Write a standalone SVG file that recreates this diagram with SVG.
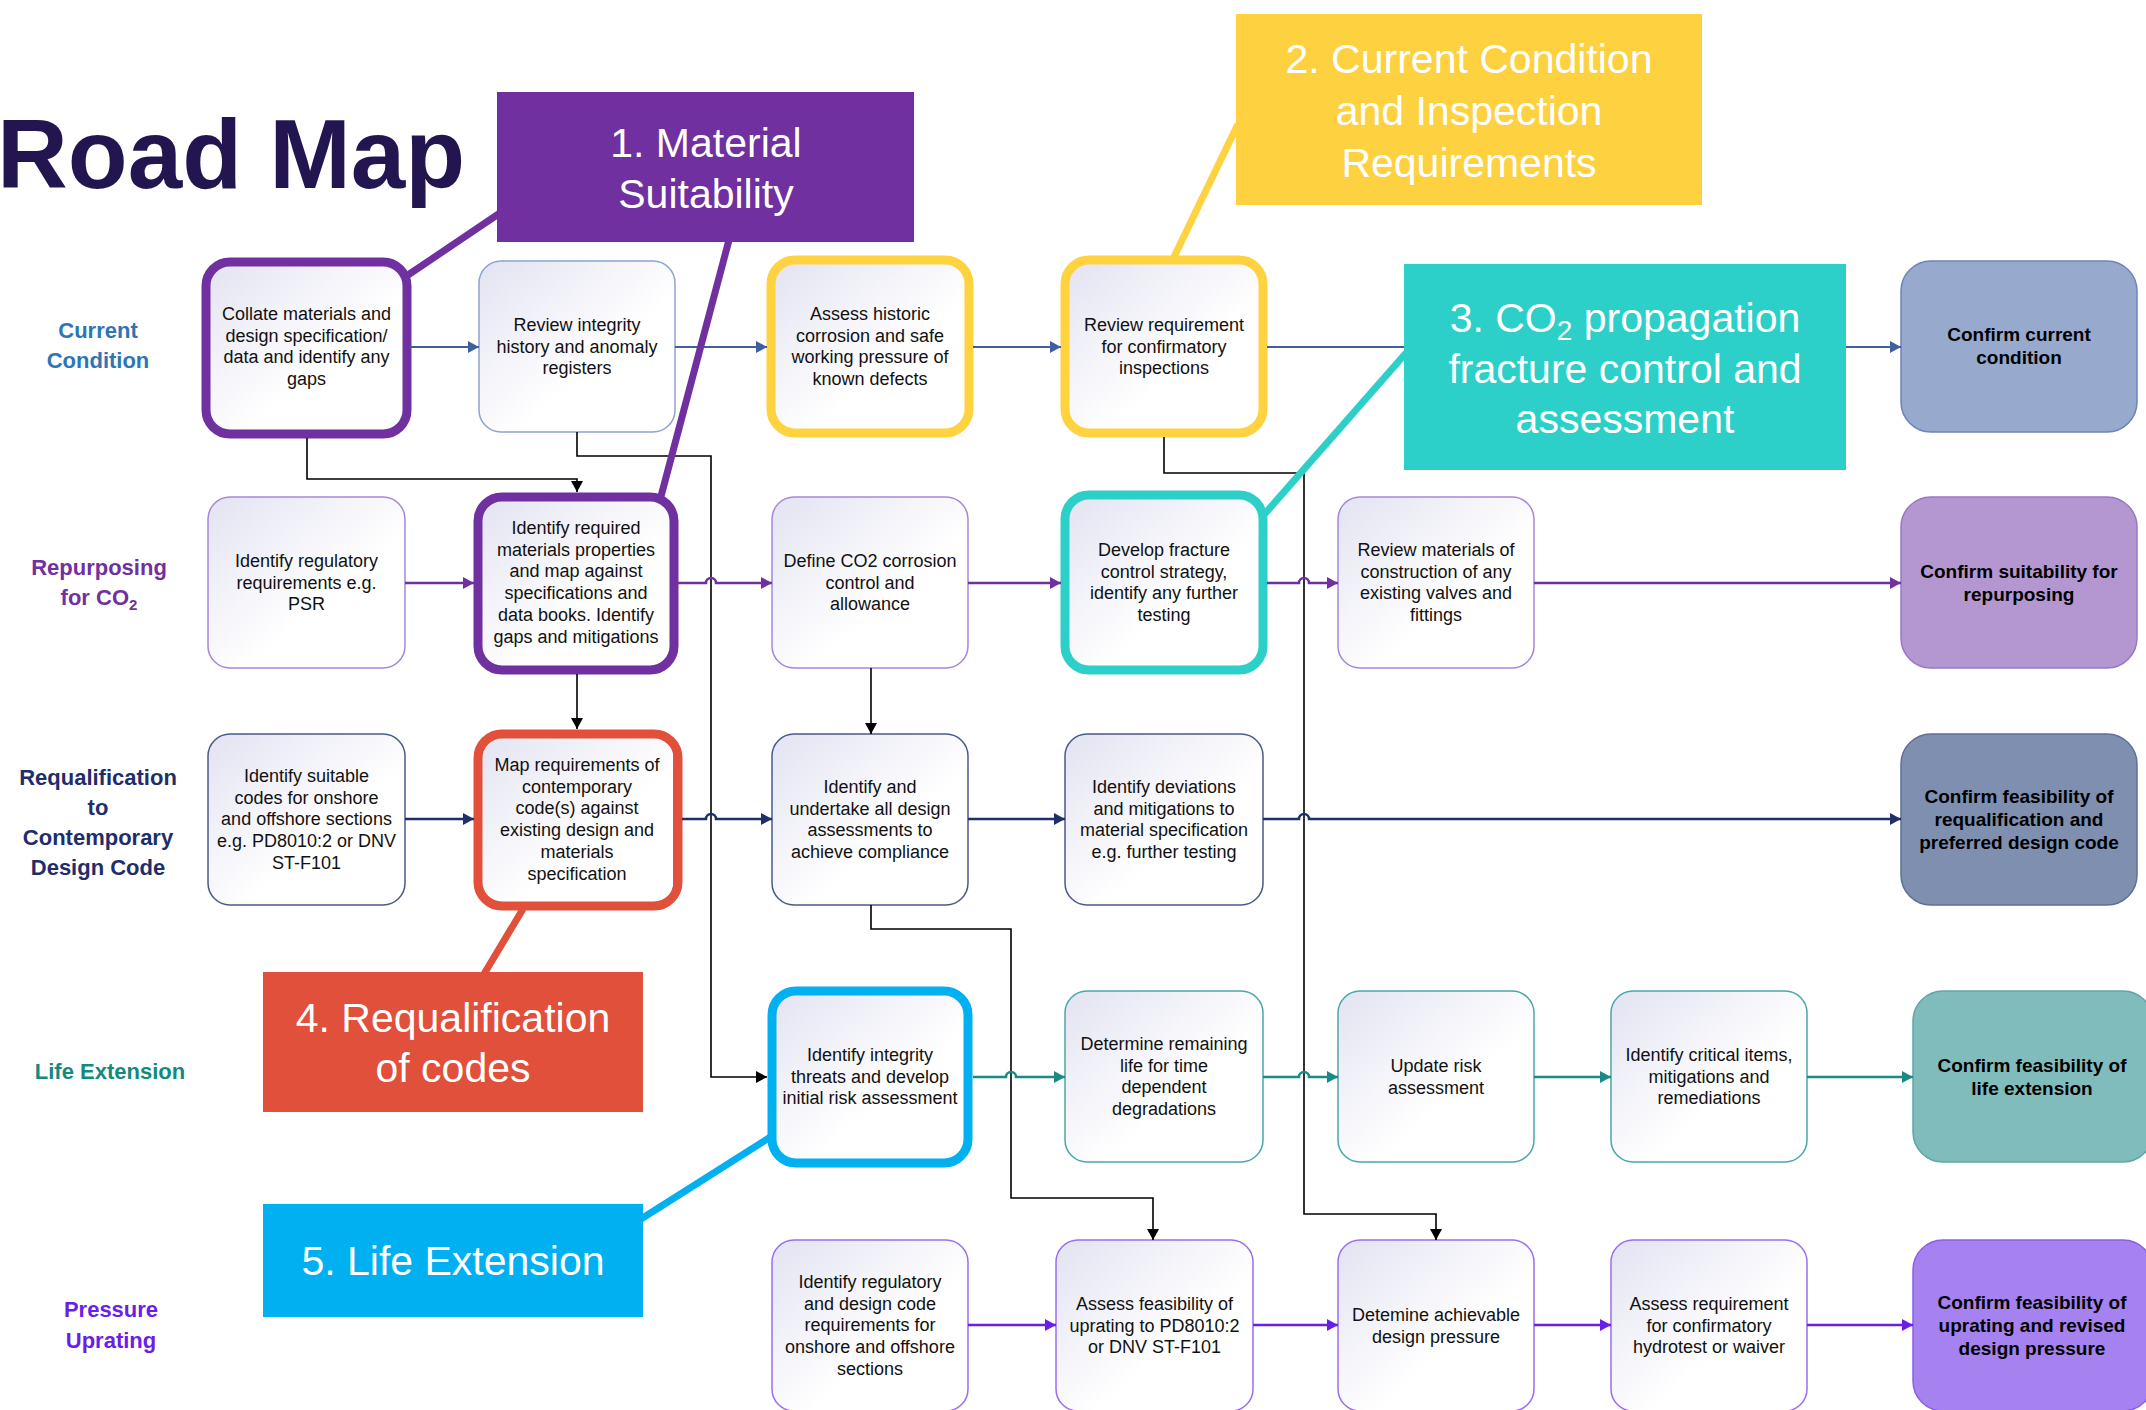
<svg xmlns="http://www.w3.org/2000/svg" width="2146" height="1410" viewBox="0 0 2146 1410">
<defs>
<linearGradient id="ng" x1="0" y1="0" x2="1" y2="1">
<stop offset="0" stop-color="#e3e3f2"/>
<stop offset="0.6" stop-color="#ffffff"/>
</linearGradient>
<marker id="aBlue" markerUnits="userSpaceOnUse" markerWidth="12" markerHeight="12" refX="11" refY="6" orient="auto"><path d="M0,0 L11,6 L0,12 z" fill="#3f60a0"/></marker>
<marker id="aPur" markerUnits="userSpaceOnUse" markerWidth="12" markerHeight="12" refX="11" refY="6" orient="auto"><path d="M0,0 L11,6 L0,12 z" fill="#7030a0"/></marker>
<marker id="aNavy" markerUnits="userSpaceOnUse" markerWidth="12" markerHeight="12" refX="11" refY="6" orient="auto"><path d="M0,0 L11,6 L0,12 z" fill="#1f2f6b"/></marker>
<marker id="aTeal" markerUnits="userSpaceOnUse" markerWidth="12" markerHeight="12" refX="11" refY="6" orient="auto"><path d="M0,0 L11,6 L0,12 z" fill="#1b8a86"/></marker>
<marker id="aVio" markerUnits="userSpaceOnUse" markerWidth="12" markerHeight="12" refX="11" refY="6" orient="auto"><path d="M0,0 L11,6 L0,12 z" fill="#6a1ee8"/></marker>
<marker id="aBlk" markerUnits="userSpaceOnUse" markerWidth="12" markerHeight="12" refX="11" refY="6" orient="auto"><path d="M0,0 L11,6 L0,12 z" fill="#000"/></marker>
</defs>
<style>
.n{fill:url(#ng);stroke-width:1.5}
.r1{stroke:#8ea3d0}.r2{stroke:#a886dc}.r3{stroke:#4a5a8c}.r4{stroke:#4aa8a6}.r5{stroke:#9b6ff0}
.hl{fill:none;stroke-width:9}
.t{font-family:"Liberation Sans",Arial,sans-serif;font-size:18px;fill:#111;text-anchor:middle}
.tb{font-family:"Liberation Sans",Arial,sans-serif;font-size:19px;font-weight:bold;fill:#000;text-anchor:middle}
.lab{font-family:"Liberation Sans",Arial,sans-serif;font-size:22px;font-weight:bold;text-anchor:middle}
.co{font-family:"Liberation Sans",Arial,sans-serif;font-size:41px;fill:#fff;text-anchor:middle}
.c{fill:none;stroke-width:2.5}
.blk{fill:none;stroke:#000;stroke-width:1.6}
.cl{stroke-width:7;fill:none}
</style>
<rect width="2146" height="1410" fill="#fff"/>

<text x="-3" y="188" font-family="'Liberation Sans',Arial,sans-serif" font-size="98" font-weight="bold" fill="#231650">Road Map</text>

<g id="row-labels">
<text class="lab" fill="#2e75b6" x="98" y="338">Current</text>
<text class="lab" fill="#2e75b6" x="98" y="368">Condition</text>
<text class="lab" fill="#7030a0" x="99" y="575">Repurposing</text>
<text class="lab" fill="#7030a0" x="99" y="605">for CO<tspan font-size="15" dy="5">2</tspan></text>
<text class="lab" fill="#1f2d6b" x="98" y="785">Requalification</text>
<text class="lab" fill="#1f2d6b" x="98" y="815">to</text>
<text class="lab" fill="#1f2d6b" x="98" y="845">Contemporary</text>
<text class="lab" fill="#1f2d6b" x="98" y="875">Design Code</text>
<text class="lab" fill="#138a7e" x="110" y="1079">Life Extension</text>
<text class="lab" fill="#6a1ee8" x="111" y="1317">Pressure</text>
<text class="lab" fill="#6a1ee8" x="111" y="1348">Uprating</text>
</g>

<!-- Row 1 -->
<g id="n-collate">
<rect class="n r1" x="208" y="261" width="197" height="171" rx="22"/>
<rect class="hl" stroke="#7030a0" x="206" y="262" width="201" height="172" rx="24"/>
<text class="t" x="306.5" y="320"><tspan x="306.5">Collate materials and</tspan><tspan x="306.5" dy="21.7">design specification/</tspan><tspan x="306.5" dy="21.7">data and identify any</tspan><tspan x="306.5" dy="21.7">gaps</tspan></text>
</g>
<g id="n-review-integrity">
<rect class="n r1" x="479" y="261" width="196" height="171" rx="22"/>
<text class="t" x="577" y="331"><tspan x="577">Review integrity</tspan><tspan x="577" dy="21.7">history and anomaly</tspan><tspan x="577" dy="21.7">registers</tspan></text>
</g>
<g id="n-assess-historic">
<rect class="n r1" x="772" y="261" width="196" height="171" rx="22"/>
<rect class="hl" stroke="#ffd23f" x="771" y="260" width="198" height="173" rx="24"/>
<text class="t" x="870" y="320"><tspan x="870">Assess historic</tspan><tspan x="870" dy="21.7">corrosion and safe</tspan><tspan x="870" dy="21.7">working pressure of</tspan><tspan x="870" dy="21.7">known defects</tspan></text>
</g>
<g id="n-review-requirement">
<rect class="n r1" x="1065" y="261" width="198" height="171" rx="22"/>
<rect class="hl" stroke="#ffd23f" x="1065" y="260" width="198" height="173" rx="24"/>
<text class="t" x="1164" y="331"><tspan x="1164">Review requirement</tspan><tspan x="1164" dy="21.7">for confirmatory</tspan><tspan x="1164" dy="21.7">inspections</tspan></text>
</g>
<g id="n-confirm-current">
<rect x="1901" y="261" width="236" height="171" rx="30" fill="#97a9cc" stroke="#6d83ba" stroke-width="1.5"/>
<text class="tb" x="2019" y="341"><tspan x="2019">Confirm current</tspan><tspan x="2019" dy="23">condition</tspan></text>
</g>

<!-- Row 2 -->
<g id="n-identify-regulatory">
<rect class="n r2" x="208" y="497" width="197" height="171" rx="22"/>
<text class="t" x="306.5" y="567"><tspan x="306.5">Identify regulatory</tspan><tspan x="306.5" dy="21.7">requirements e.g.</tspan><tspan x="306.5" dy="21.7">PSR</tspan></text>
</g>
<g id="n-identify-required">
<rect class="n r2" x="478" y="497" width="196" height="171" rx="22"/>
<rect class="hl" stroke="#7030a0" x="478" y="497" width="196" height="173" rx="24"/>
<text class="t" x="576" y="534"><tspan x="576">Identify required</tspan><tspan x="576" dy="21.7">materials properties</tspan><tspan x="576" dy="21.7">and map against</tspan><tspan x="576" dy="21.7">specifications and</tspan><tspan x="576" dy="21.7">data books.  Identify</tspan><tspan x="576" dy="21.7">gaps and mitigations</tspan></text>
</g>
<g id="n-define-co2">
<rect class="n r2" x="772" y="497" width="196" height="171" rx="22"/>
<text class="t" x="870" y="567"><tspan x="870">Define CO2 corrosion</tspan><tspan x="870" dy="21.7">control and</tspan><tspan x="870" dy="21.7">allowance</tspan></text>
</g>
<g id="n-develop-fracture">
<rect class="n r2" x="1065" y="497" width="198" height="171" rx="22"/>
<rect class="hl" stroke="#2dd0c8" x="1065" y="495" width="198" height="175" rx="24"/>
<text class="t" x="1164" y="556"><tspan x="1164">Develop fracture</tspan><tspan x="1164" dy="21.7">control strategy,</tspan><tspan x="1164" dy="21.7">identify any further</tspan><tspan x="1164" dy="21.7">testing</tspan></text>
</g>
<g id="n-review-materials">
<rect class="n r2" x="1338" y="497" width="196" height="171" rx="22"/>
<text class="t" x="1436" y="556"><tspan x="1436">Review materials of</tspan><tspan x="1436" dy="21.7">construction of any</tspan><tspan x="1436" dy="21.7">existing valves and</tspan><tspan x="1436" dy="21.7">fittings</tspan></text>
</g>
<g id="n-confirm-suitability">
<rect x="1901" y="497" width="236" height="171" rx="30" fill="#b497d0" stroke="#9678c6" stroke-width="1.5"/>
<text class="tb" x="2019" y="577.5"><tspan x="2019">Confirm suitability for</tspan><tspan x="2019" dy="23">repurposing</tspan></text>
</g>

<!-- Row 3 -->
<g id="n-identify-codes">
<rect class="n r3" x="208" y="734" width="197" height="171" rx="22"/>
<text class="t" x="306.5" y="782"><tspan x="306.5">Identify suitable</tspan><tspan x="306.5" dy="21.7">codes for onshore</tspan><tspan x="306.5" dy="21.7">and offshore sections</tspan><tspan x="306.5" dy="21.7">e.g. PD8010:2 or DNV</tspan><tspan x="306.5" dy="21.7">ST-F101</tspan></text>
</g>
<g id="n-map-requirements">
<rect class="n r3" x="478" y="734" width="196" height="171" rx="22"/>
<rect class="hl" stroke="#e0503a" x="478" y="734" width="200" height="172" rx="24"/>
<text class="t" x="577" y="771"><tspan x="577">Map requirements of</tspan><tspan x="577" dy="21.7">contemporary</tspan><tspan x="577" dy="21.7">code(s) against</tspan><tspan x="577" dy="21.7">existing design and</tspan><tspan x="577" dy="21.7">materials</tspan><tspan x="577" dy="21.7">specification</tspan></text>
</g>
<g id="n-undertake-assessments">
<rect class="n r3" x="772" y="734" width="196" height="171" rx="22"/>
<text class="t" x="870" y="793"><tspan x="870">Identify and</tspan><tspan x="870" dy="21.7">undertake all design</tspan><tspan x="870" dy="21.7">assessments to</tspan><tspan x="870" dy="21.7">achieve compliance</tspan></text>
</g>
<g id="n-identify-deviations">
<rect class="n r3" x="1065" y="734" width="198" height="171" rx="22"/>
<text class="t" x="1164" y="793"><tspan x="1164">Identify deviations</tspan><tspan x="1164" dy="21.7">and mitigations to</tspan><tspan x="1164" dy="21.7">material specification</tspan><tspan x="1164" dy="21.7">e.g. further testing</tspan></text>
</g>
<g id="n-confirm-requalification">
<rect x="1901" y="734" width="236" height="171" rx="30" fill="#7f8fb0" stroke="#5f6f98" stroke-width="1.5"/>
<text class="tb" x="2019" y="803"><tspan x="2019">Confirm feasibility of</tspan><tspan x="2019" dy="23">requalification and</tspan><tspan x="2019" dy="23">preferred design code</tspan></text>
</g>

<!-- Row 4 -->
<g id="n-integrity-threats">
<rect class="n r4" x="772" y="991" width="196" height="171" rx="22"/>
<rect class="hl" stroke="#00b0f0" x="772" y="991" width="196" height="172" rx="24"/>
<text class="t" x="870" y="1061"><tspan x="870">Identify integrity</tspan><tspan x="870" dy="21.7">threats and develop</tspan><tspan x="870" dy="21.7">initial risk assessment</tspan></text>
</g>
<g id="n-remaining-life">
<rect class="n r4" x="1065" y="991" width="198" height="171" rx="22"/>
<text class="t" x="1164" y="1050"><tspan x="1164">Determine remaining</tspan><tspan x="1164" dy="21.7">life for time</tspan><tspan x="1164" dy="21.7">dependent</tspan><tspan x="1164" dy="21.7">degradations</tspan></text>
</g>
<g id="n-update-risk">
<rect class="n r4" x="1338" y="991" width="196" height="171" rx="22"/>
<text class="t" x="1436" y="1072"><tspan x="1436">Update risk</tspan><tspan x="1436" dy="21.7">assessment</tspan></text>
</g>
<g id="n-critical-items">
<rect class="n r4" x="1611" y="991" width="196" height="171" rx="22"/>
<text class="t" x="1709" y="1061"><tspan x="1709">Identify critical items,</tspan><tspan x="1709" dy="21.7">mitigations and</tspan><tspan x="1709" dy="21.7">remediations</tspan></text>
</g>
<g id="n-confirm-life">
<rect x="1913" y="991" width="240" height="171" rx="30" fill="#80bcbc" stroke="#5fa6a6" stroke-width="1.5"/>
<text class="tb" x="2032" y="1071.5"><tspan x="2032">Confirm feasibility of</tspan><tspan x="2032" dy="23">life extension</tspan></text>
</g>

<!-- Row 5 -->
<g id="n-regulatory-design-code">
<rect class="n r5" x="772" y="1240" width="196" height="171" rx="22"/>
<text class="t" x="870" y="1288"><tspan x="870">Identify regulatory</tspan><tspan x="870" dy="21.7">and design code</tspan><tspan x="870" dy="21.7">requirements for</tspan><tspan x="870" dy="21.7">onshore and offshore</tspan><tspan x="870" dy="21.7">sections</tspan></text>
</g>
<g id="n-assess-uprating">
<rect class="n r5" x="1056" y="1240" width="197" height="171" rx="22"/>
<text class="t" x="1154.5" y="1310"><tspan x="1154.5">Assess feasibility of</tspan><tspan x="1154.5" dy="21.7">uprating to PD8010:2</tspan><tspan x="1154.5" dy="21.7">or DNV ST-F101</tspan></text>
</g>
<g id="n-design-pressure">
<rect class="n r5" x="1338" y="1240" width="196" height="171" rx="22"/>
<text class="t" x="1436" y="1321"><tspan x="1436">Detemine achievable</tspan><tspan x="1436" dy="21.7">design pressure</tspan></text>
</g>
<g id="n-hydrotest">
<rect class="n r5" x="1611" y="1240" width="196" height="171" rx="22"/>
<text class="t" x="1709" y="1310"><tspan x="1709">Assess requirement</tspan><tspan x="1709" dy="21.7">for confirmatory</tspan><tspan x="1709" dy="21.7">hydrotest or waiver</tspan></text>
</g>
<g id="n-confirm-uprating">
<rect x="1913" y="1240" width="240" height="171" rx="30" fill="#a582f0" stroke="#8a5fe8" stroke-width="1.5"/>
<text class="tb" x="2032" y="1309"><tspan x="2032">Confirm feasibility of</tspan><tspan x="2032" dy="23">uprating and revised</tspan><tspan x="2032" dy="23">design pressure</tspan></text>
</g>

<g id="connectors">
<!-- black cross-row links -->
<path class="blk" d="M307,438 V479 H577 V492" marker-end="url(#aBlk)"/>
<path class="blk" d="M577,432 V456 H711 V1077 H767" marker-end="url(#aBlk)"/>
<path class="blk" d="M577,674 V729" marker-end="url(#aBlk)"/>
<path class="blk" d="M871,668 V734" marker-end="url(#aBlk)"/>
<path class="blk" d="M871,905 V929 H1011 V1198 H1153 V1240" marker-end="url(#aBlk)"/>
<path class="blk" d="M1164,437 V473 H1304 V1214 H1436 V1240" marker-end="url(#aBlk)"/>
<!-- row 1 -->
<g stroke="#3f60a0" class="c" style="stroke-width:2">
<path d="M410,347 H479" marker-end="url(#aBlue)"/>
<path d="M675,347 H767" marker-end="url(#aBlue)"/>
<path d="M973,347 H1061" marker-end="url(#aBlue)"/>
<path d="M1267,347 H1901" marker-end="url(#aBlue)"/>
</g>
<!-- row 2 -->
<g stroke="#7030a0" class="c">
<path d="M405,583 H474" marker-end="url(#aPur)"/>
<path d="M678,583 H706 a5,5 0 0 1 10,0 H772" marker-end="url(#aPur)"/>
<path d="M968,583 H1061" marker-end="url(#aPur)"/>
<path d="M1267,583 H1299 a5,5 0 0 1 10,0 H1338" marker-end="url(#aPur)"/>
<path d="M1534,583 H1901" marker-end="url(#aPur)"/>
</g>
<!-- row 3 -->
<g stroke="#1f2f6b" class="c">
<path d="M405,819 H474" marker-end="url(#aNavy)"/>
<path d="M682,819 H706 a5,5 0 0 1 10,0 H772" marker-end="url(#aNavy)"/>
<path d="M968,819 H1065" marker-end="url(#aNavy)"/>
<path d="M1263,819 H1299 a5,5 0 0 1 10,0 H1901" marker-end="url(#aNavy)"/>
</g>
<!-- row 4 -->
<g stroke="#1b8a86" class="c">
<path d="M973,1077 H1006 a5,5 0 0 1 10,0 H1065" marker-end="url(#aTeal)"/>
<path d="M1263,1077 H1299 a5,5 0 0 1 10,0 H1338" marker-end="url(#aTeal)"/>
<path d="M1534,1077 H1611" marker-end="url(#aTeal)"/>
<path d="M1807,1077 H1913" marker-end="url(#aTeal)"/>
</g>
<!-- row 5 -->
<g stroke="#6a1ee8" class="c">
<path d="M968,1325 H1056" marker-end="url(#aVio)"/>
<path d="M1253,1325 H1338" marker-end="url(#aVio)"/>
<path d="M1534,1325 H1611" marker-end="url(#aVio)"/>
<path d="M1807,1325 H1913" marker-end="url(#aVio)"/>
</g>
</g>

<g id="callout-lines">
<path class="cl" stroke="#7030a0" d="M500,213 L408,275"/>
<path class="cl" stroke="#7030a0" d="M729,240 L660,500"/>
<path class="cl" stroke="#ffd23f" d="M1238,124 L1173,259"/>
<path class="cl" stroke="#2dd0c8" d="M1406,353 L1262,517"/>
<path class="cl" stroke="#e0503a" d="M484,974 L523,909"/>
<path class="cl" stroke="#00b0f0" d="M641,1219 L772,1136"/>
</g>

<g id="callout-1">
<rect x="497" y="92" width="417" height="150" fill="#7030a0"/>
<text class="co" x="706" y="157"><tspan x="706">1. Material</tspan><tspan x="706" dy="51">Suitability</tspan></text>
</g>
<g id="callout-2">
<rect x="1236" y="14" width="466" height="191" fill="#fed141"/>
<text class="co" x="1469" y="73"><tspan x="1469">2. Current Condition</tspan><tspan x="1469" dy="52">and Inspection</tspan><tspan x="1469" dy="52">Requirements</tspan></text>
</g>
<g id="callout-3">
<rect x="1404" y="264" width="442" height="206" fill="#2dd0c8"/>
<text class="co" x="1625" y="332">3. CO<tspan font-size="28" dy="8">2</tspan><tspan dy="-8"> propagation</tspan></text>
<text class="co" x="1625" y="383">fracture control and</text>
<text class="co" x="1625" y="433">assessment</text>
</g>
<g id="callout-4">
<rect x="263" y="972" width="380" height="140" fill="#e0503a"/>
<text class="co" x="453" y="1032"><tspan x="453">4. Requalification</tspan><tspan x="453" dy="50">of codes</tspan></text>
</g>
<g id="callout-5">
<rect x="263" y="1204" width="380" height="113" fill="#00b0f0"/>
<text class="co" x="453" y="1275">5. Life Extension</text>
</g>
</svg>
